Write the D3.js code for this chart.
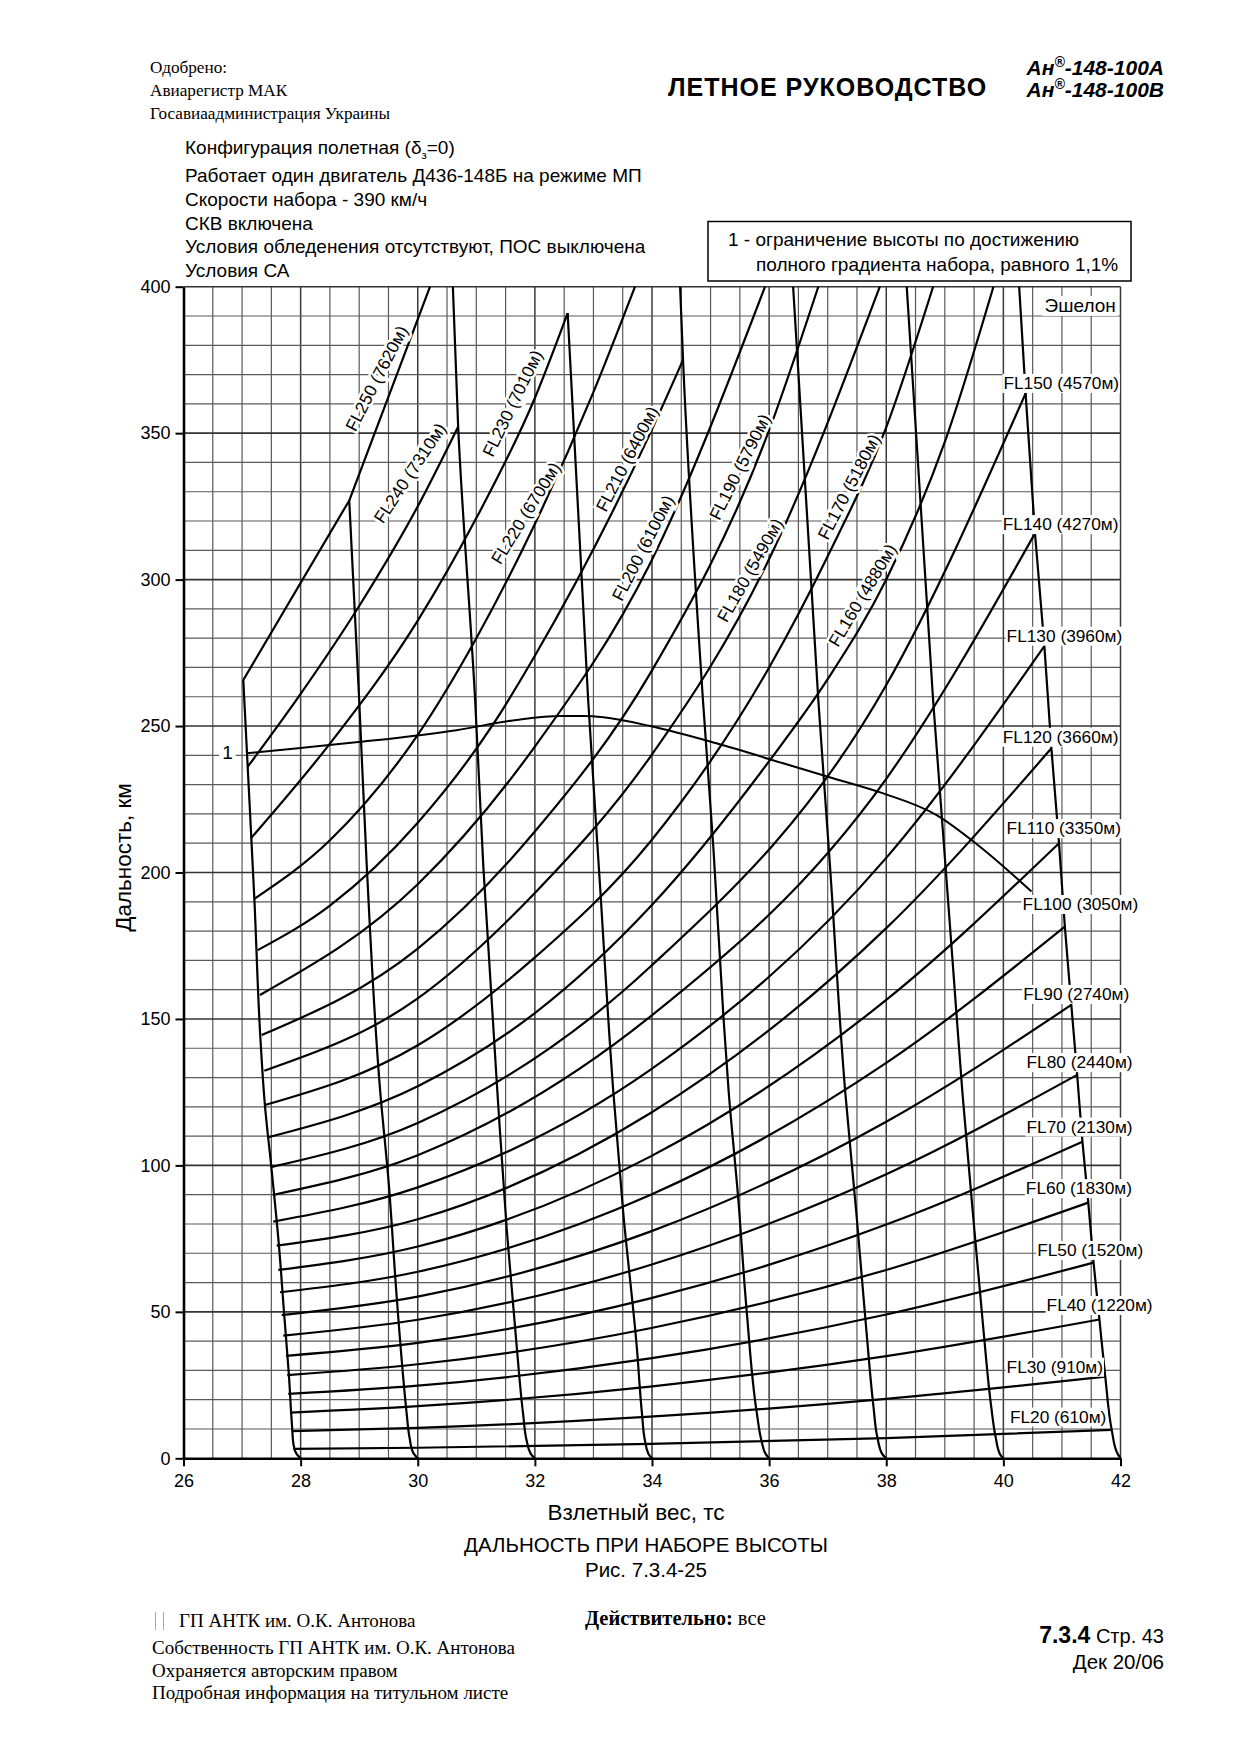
<!DOCTYPE html>
<html>
<head>
<meta charset="utf-8">
<script src="https://cdn.jsdelivr.net/npm/d3@7"></script>
<style>
  body { margin: 0; background: #fff; }
  svg text { font-family: "Liberation Sans", Arial, sans-serif; fill: #000; }
  svg text.serif { font-family: "Liberation Serif", "Times New Roman", serif; }
</style>
</head>
<body>
<svg id="page" width="1240" height="1755"></svg>
<script>
// axis ticks
const weightTicks = [26, 28, 30, 32, 34, 36, 38, 40, 42];
const rangeTicks = [0, 50, 100, 150, 200, 250, 300, 350, 400];

// flight levels, bottom to top
const flLevels = [20, 30, 40, 50, 60, 70, 80, 90, 100, 110, 120, 130, 140, 150,
                  160, 170, 180, 190, 200, 210, 220, 230, 240, 250];
const flMetres = [610, 910, 1220, 1520, 1830, 2130, 2440, 2740, 3050, 3350, 3660, 3960, 4270, 4570,
                  4880, 5180, 5490, 5790, 6100, 6400, 6700, 7010, 7310, 7620];

// range (km) vs take-off weight (t) for each level
const flCurves = [
  [[27.875, 3.2], [30, 3.6], [33.97, 4.9], [38, 6.9], [41.85, 9.7]],
  [[27.847, 9.3], [30, 10.4], [33.97, 14.2], [38, 20.3], [41.74, 27.9]],
  [[27.818, 15.6], [30, 17.8], [33.97, 24.5], [38, 34.9], [41.64, 47.4]],
  [[27.789, 22.0], [30, 24.8], [33.97, 34.1], [38, 49.1], [41.54, 66.8]],
  [[27.772, 28.4], [30, 32.1], [33.97, 44.4], [38, 64.3], [41.45, 87.3]],
  [[27.75, 35.0], [30, 39.4], [33.97, 54.6], [38, 79.8], [41.35, 108.1]],
  [[27.704, 41.9], [30, 47.3], [33.97, 66.0], [38, 97.0], [41.26, 130.9]],
  [[27.677, 48.9], [30, 55.2], [33.97, 77.4], [38, 114.9], [41.16, 154.8]],
  [[27.648, 56.7], [30, 63.7], [33.97, 89.9], [38, 135.0], [41.05, 181.5]],
  [[27.619, 64.3], [30, 72.3], [33.97, 103.0], [38, 156.5], [40.95, 210.0]],
  [[27.591, 72.6], [30, 81.6], [33.97, 117.8], [38, 181.0], [40.82, 242.4]],
  [[27.533, 80.8], [30, 92.5], [33.97, 132.6], [38, 205.0], [40.70, 277.3]],
  [[27.523, 89.9], [30, 103.5], [33.97, 150.8], [38, 232.0], [40.54, 315.8]],
  [[27.489, 99.4], [30, 114.5], [33.97, 167.8], [38, 264.0], [40.38, 363.6]],
  [[27.448, 109.6], [30, 127.0], [32, 152.0], [33.97, 188.3], [36, 238.0], [37, 266.0], [38, 300.0], [39, 347.0], [39.83, 400]],
  [[27.391, 120.6], [30, 141.0], [32, 171.0], [33.97, 210.5], [36, 270.0], [37, 308.0], [38, 352.0], [38.8, 400]],
  [[27.38, 132.3], [30, 157.0], [32, 193.0], [33.97, 239.5], [36, 307.0], [37.89, 400]],
  [[27.335, 144.5], [30, 174.0], [32, 214.0], [33.97, 268.0], [36, 351.0], [36.84, 400]],
  [[27.306, 158.2], [30, 196.0], [32, 243.0], [33.97, 305.6], [35.93, 400]],
  [[27.267, 173.5], [28.5, 188.7], [30, 217.0], [31.3, 251.0], [32, 274.0], [33.97, 350.0], [34.53, 375.0]],
  [[27.209, 191.0], [28.5, 211.0], [30, 247.0], [31, 280.0], [32, 319.0], [33, 364.0], [33.71, 400]],
  [[27.152, 211.7], [28.5, 244.0], [30, 286.0], [31, 321.0], [32, 362.0], [32.56, 391.0]],
  [[27.096, 236.1], [28, 261.0], [29, 291.0], [30, 325.0], [30.69, 352.2]],
  [[27.021, 265.7], [28.83, 327.0], [30.21, 400]]
];

// near-vertical boundary lines (weight t, range km), top to bottom
const guideLines = [
  [[27.021, 265.7], [27.096, 236.1], [27.21, 191], [27.31, 144.5], [27.39, 120.6], [27.5, 99.4],
   [27.63, 72.6], [27.72, 48.9], [27.8, 28.4], [27.85, 12], [27.88, 4.5], [27.93, 1.5], [28, 0]],
  [[28.83, 327], [29.0, 258.9], [29.13, 202], [29.36, 125], [29.5, 95], [29.64, 55.2],
   [29.75, 28], [29.81, 15.4], [29.86, 7], [29.92, 2], [30, 0]],
  [[30.6, 400], [30.69, 352.2], [30.98, 258.9], [31.12, 202], [31.36, 125], [31.52, 78],
   [31.69, 38.1], [31.8, 15], [31.86, 6], [31.93, 1.5], [32, 0]],
  [[32.56, 391], [32.91, 258.9], [33.11, 196.3], [33.34, 125], [33.51, 83.6], [33.74, 38.1],
   [33.83, 15], [33.88, 6], [33.94, 1.5], [34, 0]],
  [[34.48, 400], [34.53, 375], [34.87, 258.9], [35.05, 207.8], [35.22, 150.8], [35.31, 125],
   [35.47, 89.3], [35.62, 49.5], [35.79, 15.4], [35.87, 6], [35.94, 1.5], [36, 0]],
  [[36.41, 400], [36.84, 258.9], [37.04, 202], [37.3, 125], [37.49, 83.6], [37.66, 43.8],
   [37.78, 18], [37.85, 7], [37.93, 1.5], [38, 0]],
  [[38.35, 400], [38.8, 258.9], [38.97, 213.4], [39.14, 167.8], [39.3, 125], [39.48, 83.6],
   [39.66, 43.8], [39.79, 18], [39.87, 7], [39.94, 1.5], [40, 0]],
  [[40.27, 400], [40.38, 363.6], [40.54, 315.8], [40.70, 277.3], [40.82, 242.4], [40.95, 210],
   [41.05, 181.5], [41.16, 154.8], [41.26, 130.9], [41.35, 108.1], [41.45, 87.3], [41.54, 66.8],
   [41.64, 47.4], [41.74, 27.9], [41.85, 9.7], [41.94, 2], [42, 0]]
];

// curve 1: full climb gradient 1.1% limit
const limitCurve = [[27.08, 240.7], [28, 242.5], [29.07, 244.7], [30.66, 248.6], [31.69, 252.1],
  [32.43, 253.4], [32.83, 253.4], [33.17, 253], [33.97, 250], [35.1, 244.1], [36.24, 237.3],
  [37.09, 232.2], [37.95, 227], [38.86, 219.6], [39.6, 208.8], [40.48, 193.5]];

// label anchors (weight, range) for the right-hand level labels, FL20..FL150
const sideLabelAt = [[40.111, 12.2], [40.055, 29.2], [40.738, 50.3], [40.577, 69.1], [40.384, 90.2],
  [40.396, 111.2], [40.396, 133.2], [40.338, 156.5], [40.328, 187.2], [40.055, 213.1],
  [39.99, 244.3], [40.055, 278.8], [39.99, 316.9], [40.0, 365.1]];
// slanted labels FL160..FL250: centre (weight, range) and angle
const slantLabelAt = [[37.593, 294.7, -59.2], [37.362, 331.7, -62.7], [35.672, 303.2, -60.6],
  [35.5, 338.5, -63.4], [33.845, 310.8, -63], [33.572, 341.2, -62.8], [31.844, 322.7, -58.3],
  [31.617, 360.2, -64.2], [29.867, 336.4, -56.5], [29.295, 368.7, -62.8]];

const conditions = [
  "Работает один двигатель Д436-148Б на режиме МП",
  "Скорости набора - 390 км/ч",
  "СКВ включена",
  "Условия обледенения отсутствуют, ПОС выключена",
  "Условия СА"
];

const svg = d3.select("#page");

const x = d3.scaleLinear().domain([26, 42]).range([183.5, 1120.5]);
const y = d3.scaleLinear().domain([0, 400]).range([1458.3, 286.7]);

// ---- page header
const approved = ["Одобрено:", "Авиарегистр МАК", "Госавиаадминистрация Украины"];
svg.selectAll(".approved").data(approved).enter().append("text")
  .attr("class", "serif")
  .attr("x", 150).attr("y", (d, i) => 73 + i * 23)
  .attr("font-size", 17.2).text(d => d);

svg.append("text").attr("x", 668).attr("y", 96)
  .attr("font-size", 25).attr("font-weight", "bold").attr("letter-spacing", 1)
  .text("ЛЕТНОЕ РУКОВОДСТВО");

["А", "В"].forEach((v, i) => {
  const t = svg.append("text").attr("x", 1164).attr("y", 75 + i * 22)
    .attr("text-anchor", "end").attr("font-size", 21)
    .attr("font-weight", "bold").attr("font-style", "italic");
  t.append("tspan").text("Ан");
  t.append("tspan").attr("font-size", 14).attr("dy", -8).text("®");
  t.append("tspan").attr("dy", 8).text("-148-100" + v);
});

// ---- conditions block
const cfg = svg.append("text").attr("x", 185).attr("y", 154).attr("font-size", 19);
cfg.append("tspan").text("Конфигурация полетная (δ");
cfg.append("tspan").attr("font-size", 11.5).attr("dy", 5).text("з");
cfg.append("tspan").attr("dy", -5).text("=0)");
svg.selectAll(".cond").data(conditions).enter().append("text")
  .attr("x", 185).attr("y", (d, i) => 182 + i * 23.8)
  .attr("font-size", 19).text(d => d);

svg.append("rect").attr("x", 708).attr("y", 221.5).attr("width", 423).attr("height", 59.5)
  .attr("fill", "#fff").attr("stroke", "#000").attr("stroke-width", 1.5);
svg.append("text").attr("x", 728).attr("y", 246).attr("font-size", 19)
  .text("1 - ограничение высоты по достижению");
svg.append("text").attr("x", 756).attr("y", 271).attr("font-size", 19)
  .text("полного градиента набора, равного 1,1%");

// ---- grid
const grid = svg.append("g");
grid.selectAll(".gv").data(d3.range(26.5, 42.01, 0.5)).enter().append("line")
  .attr("x1", d => x(d)).attr("x2", d => x(d))
  .attr("y1", y(0)).attr("y2", y(400))
  .attr("stroke", d => d % 2 === 0 ? "#3a3a3a" : "#5a5a5a")
  .attr("stroke-width", d => d % 2 === 0 ? 1.5 : 1.2);
grid.selectAll(".gh").data(d3.range(10, 400.01, 10)).enter().append("line")
  .attr("x1", x(26)).attr("x2", x(42))
  .attr("y1", d => y(d)).attr("y2", d => y(d))
  .attr("stroke", d => d % 50 === 0 ? "#333" : "#5a5a5a")
  .attr("stroke-width", d => d % 50 === 0 ? 1.6 : 1.2);

// ---- axes
const yAxis = svg.append("g").attr("transform", `translate(${x(26)},0)`)
  .call(d3.axisLeft(y).tickValues(rangeTicks).tickSize(8).tickSizeOuter(0).tickPadding(5));
const xAxis = svg.append("g").attr("transform", `translate(0,${y(0)})`)
  .call(d3.axisBottom(x).tickValues(weightTicks).tickSize(8).tickSizeOuter(0).tickPadding(8));
[yAxis, xAxis].forEach(a => {
  a.select(".domain").attr("stroke", "#000").attr("stroke-width", 2.6);
  a.selectAll(".tick line").attr("stroke", "#000").attr("stroke-width", 2);
  a.selectAll(".tick text").attr("font-size", 18)
    .attr("font-family", "'Liberation Sans', Arial, sans-serif").attr("fill", "#000");
});

svg.append("text")
  .attr("transform", `translate(131,${(y(0) + y(400)) / 2 - 15}) rotate(-90)`)
  .attr("text-anchor", "middle").attr("font-size", 22.5).text("Дальность, км");
svg.append("text").attr("x", 636).attr("y", 1520).attr("text-anchor", "middle")
  .attr("font-size", 22.5).text("Взлетный вес, тс");
svg.append("text").attr("x", 646).attr("y", 1552).attr("text-anchor", "middle")
  .attr("font-size", 20.5).text("ДАЛЬНОСТЬ ПРИ НАБОРЕ ВЫСОТЫ");
svg.append("text").attr("x", 646).attr("y", 1577).attr("text-anchor", "middle")
  .attr("font-size", 20.5).text("Рис. 7.3.4-25");

// ---- curves
const flLine = d3.line().x(d => x(d[0])).y(d => y(d[1])).curve(d3.curveMonotoneX);
const vLine = d3.line().x(d => x(d[0])).y(d => y(d[1])).curve(d3.curveMonotoneY);

const marks = svg.append("g").attr("fill", "none").attr("stroke", "#000")
  .attr("stroke-width", 2.2).attr("stroke-linejoin", "round");

marks.selectAll(".fl").data(flCurves).enter().append("path")
  .attr("d", (d, i) => flLevels[i] === 250 ? flLine.curve(d3.curveLinear)(d) : flLine.curve(d3.curveMonotoneX)(d));

marks.selectAll(".guide").data(guideLines).enter().append("path")
  .attr("d", d => vLine(d));

marks.append("path").attr("d", flLine.curve(d3.curveMonotoneX)(limitCurve)).attr("stroke-width", 2);

// ---- labels
function whiteBox(g, t, pad) {
  const b = t.node().getBBox();
  g.insert("rect", "text").attr("x", b.x - pad).attr("y", b.y + 1)
    .attr("width", b.width + 2 * pad).attr("height", b.height - 1).attr("fill", "#fff");
}

const lab = svg.append("g");
sideLabelAt.forEach((p, i) => {
  const g = lab.append("g");
  const t = g.append("text").attr("x", x(p[0])).attr("y", y(p[1]))
    .attr("font-size", 17.3).text(`FL${flLevels[i]} (${flMetres[i]}м)`);
  whiteBox(g, t, 1);
});

slantLabelAt.forEach((p, i) => {
  const k = i + 14;
  lab.append("text")
    .attr("transform", `translate(${x(p[0])},${y(p[1])}) rotate(${p[2]})`)
    .attr("text-anchor", "middle").attr("dy", "0.35em")
    .attr("font-size", 17.3)
    .attr("stroke", "#fff").attr("stroke-width", 5).attr("paint-order", "stroke")
    .text(`FL${flLevels[k]} (${flMetres[k]}м)`);
});

const g1 = lab.append("g");
const t1 = g1.append("text").attr("x", x(26.75)).attr("y", y(240.7) + 6)
  .attr("text-anchor", "middle").attr("font-size", 19).text("1");
whiteBox(g1, t1, 3);

const ge = lab.append("g");
const te = ge.append("text").attr("x", x(41.92)).attr("y", y(391.4))
  .attr("text-anchor", "end").attr("font-size", 19).text("Эшелон");
whiteBox(ge, te, 2);

// ---- footer
svg.append("line").attr("x1", 155.5).attr("x2", 155.5).attr("y1", 1612).attr("y2", 1630)
  .attr("stroke", "#aaa").attr("stroke-width", 1);
svg.append("line").attr("x1", 163.5).attr("x2", 163.5).attr("y1", 1612).attr("y2", 1630)
  .attr("stroke", "#aaa").attr("stroke-width", 1);
svg.append("text").attr("class", "serif").attr("x", 179).attr("y", 1627)
  .attr("font-size", 19).text("ГП АНТК им. О.К. Антонова");
["Собственность ГП АНТК им. О.К. Антонова", "Охраняется авторским правом",
 "Подробная информация на титульном листе"].forEach((s, i) => {
  svg.append("text").attr("class", "serif").attr("x", 152).attr("y", 1654 + i * 22.5)
    .attr("font-size", 19).text(s);
});
const valid = svg.append("text").attr("class", "serif").attr("x", 585).attr("y", 1625).attr("font-size", 20.5);
valid.append("tspan").attr("font-weight", "bold").text("Действительно:");
valid.append("tspan").text(" все");

const pg = svg.append("text").attr("x", 1164).attr("y", 1643).attr("text-anchor", "end");
pg.append("tspan").attr("font-size", 23).attr("font-weight", "bold").text("7.3.4");
pg.append("tspan").attr("font-size", 20).text(" Стр. 43");
svg.append("text").attr("x", 1164).attr("y", 1669).attr("text-anchor", "end")
  .attr("font-size", 20.5).text("Дек 20/06");
</script>
</body>
</html>
